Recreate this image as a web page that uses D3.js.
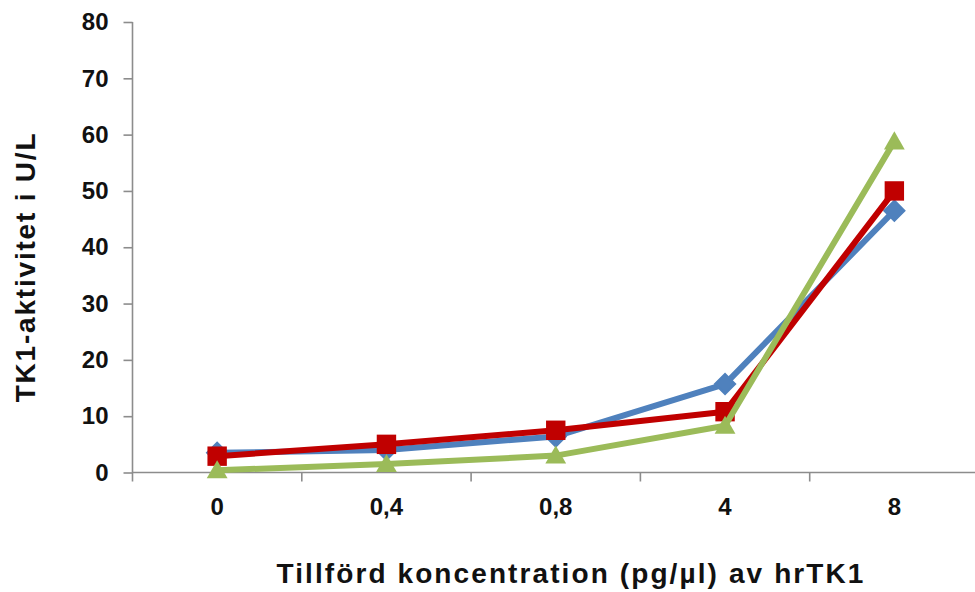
<!DOCTYPE html>
<html>
<head>
<meta charset="utf-8">
<script src="https://cdn.jsdelivr.net/npm/d3@7"></script>
<style>
  html, body { margin: 0; padding: 0; background: #fff; }
  svg { display: block; font-family: "Liberation Sans", Arial, sans-serif; }
</style>
</head>
<body>
<svg id="chart" width="975" height="592"></svg>
<script>
// Added concentration of hrTK1 (pg/µl) and measured TK1 activity (U/L)
const categories = ["0", "0,4", "0,8", "4", "8"];
const seriesA = [3.5, 4.0, 6.4, 15.7, 46.5];   // blue, diamonds
const seriesB = [2.9, 5.0, 7.5, 10.8, 50.0];   // red, squares
const seriesC = [0.4, 1.5, 3.0, 8.3, 58.8];    // green, triangles
const yTicks = [0, 10, 20, 30, 40, 50, 60, 70, 80];

const series = [
  { values: seriesA, color: "#4F81BD", shape: "diamond" },
  { values: seriesB, color: "#C00000", shape: "square" },
  { values: seriesC, color: "#9BBB59", shape: "triangle" }
];

const svg = d3.select("#chart");
const plotLeft = 132.5, plotTop = 22, plotBottom = 472.5, plotRight = 979;

const x = d3.scaleBand().domain(categories).range([plotLeft, plotRight]).padding(0);
const y = d3.scaleLinear().domain([0, 80]).range([plotBottom, plotTop]);
const cx = d => x(d) + x.bandwidth() / 2;

const axisColor = "#8C8C8C";
const labelFont = 24;

// y axis
const yAxis = svg.append("g")
  .attr("transform", `translate(${plotLeft},0)`)
  .call(d3.axisLeft(y).tickValues(yTicks).tickSize(9).tickPadding(15).tickFormat(d3.format("d")));
yAxis.select(".domain").attr("d", `M0,${plotTop}V${plotBottom + 9}`);

// x axis with ticks on category boundaries
const xAxis = svg.append("g")
  .attr("transform", `translate(0,${plotBottom})`);
xAxis.append("line")
  .attr("x1", plotLeft).attr("x2", plotRight).attr("y1", 0).attr("y2", 0);
xAxis.selectAll(".bound")
  .data(categories.slice(1))
  .join("line")
  .attr("class", "bound")
  .attr("x1", d => x(d)).attr("x2", d => x(d))
  .attr("y1", 0).attr("y2", 9);
xAxis.selectAll("text")
  .data(categories)
  .join("text")
  .attr("x", d => cx(d))
  .attr("y", 42)
  .attr("text-anchor", "middle")
  .text(d => d);

svg.selectAll(".domain, .tick line, g line")
  .attr("stroke", axisColor).attr("stroke-width", 1.6);
svg.selectAll("g text")
  .attr("font-size", labelFont).attr("font-weight", "bold").attr("fill", "#111")
  .attr("font-family", "'Liberation Sans', Arial, sans-serif");

// series lines and markers
const line = d3.line().x((d, i) => cx(categories[i])).y(d => y(d));
const symbolFor = {
  diamond: d3.symbol().type(d3.symbolDiamond2).size(260),
  square: d3.symbol().type(d3.symbolSquare2).size(480),
  triangle: d3.symbol().type(d3.symbolTriangle2).size(310)
};

series.forEach(s => {
  svg.append("path")
    .datum(s.values)
    .attr("fill", "none")
    .attr("stroke", s.color)
    .attr("stroke-width", 6)
    .attr("stroke-linejoin", "round")
    .attr("d", line);
  svg.append("g").selectAll("path")
    .data(s.values)
    .join("path")
    .attr("transform", (d, i) => {
      const dy = s.shape === "triangle" ? 2 : 0;
      return `translate(${cx(categories[i])},${y(d) + dy})`;
    })
    .attr("d", symbolFor[s.shape]())
    .attr("fill", s.color)
    .attr("stroke", s.shape === "diamond" ? s.color : "none")
    .attr("stroke-width", 2);
});

// axis titles
svg.append("text")
  .attr("x", 571).attr("y", 583)
  .attr("text-anchor", "middle")
  .attr("font-size", 28).attr("font-weight", "bold").attr("fill", "#111")
  .attr("letter-spacing", 2.1)
  .text("Tillförd koncentration (pg/µl) av hrTK1");

svg.append("text")
  .attr("transform", "translate(35,267) rotate(-90)")
  .attr("text-anchor", "middle")
  .attr("font-size", 28).attr("font-weight", "bold").attr("fill", "#111")
  .attr("letter-spacing", 1.8)
  .text("TK1-aktivitet i U/L");
</script>
</body>
</html>
